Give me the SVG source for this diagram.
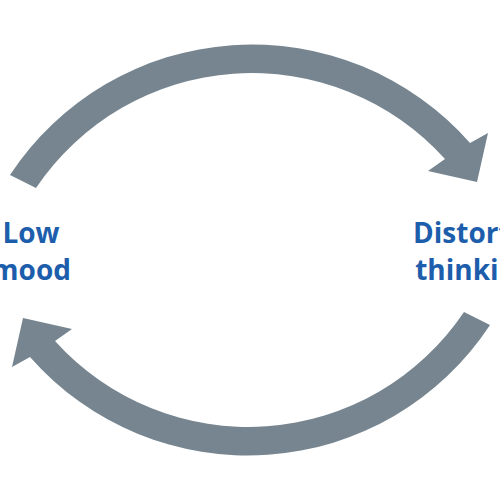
<svg xmlns="http://www.w3.org/2000/svg" width="500" height="500" viewBox="0 0 500 500">
<style>
.arrow{fill:#76858f;}
.lbl{font-family:"Open Sans","Liberation Sans",sans-serif;font-weight:bold;font-size:28px;fill:#1d5eac;text-anchor:middle;}
</style>
<defs>
<path id="arc" class="arrow" d="M 10,175 A 290 290 0 0 1 470,143 L 488,133 L 477,182 L 428,171 L 445,159 A 260 260 0 0 0 36,188 Z"/>
</defs>
<g id="connectors">
<use href="#arc"/>
<use href="#arc" transform="rotate(180 250 250)"/>
</g>
<g id="low-mood">
<text class="lbl" x="31" y="243">Low</text>
<text class="lbl" x="31" y="280">mood</text>
</g>
<g id="distorted-thinking">
<text class="lbl" x="479" y="243">Distorted</text>
<text class="lbl" x="474" y="280">thinking</text>
</g>
</svg>
